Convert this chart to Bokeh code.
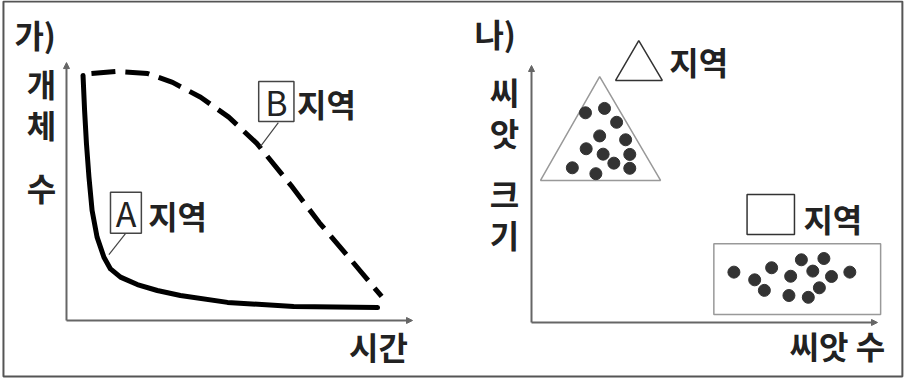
from bokeh.plotting import figure
from bokeh.models import Range1d, Arrow, NormalHead
from bokeh.core.properties import value
from bokeh.embed import file_html
from bokeh.resources import INLINE

# ---------------- data: panel 가) survivorship ----------------
A_TIME = [0.53, 0.58, 0.64, 0.72, 0.82, 0.98, 1.2, 1.41, 1.73, 2.27, 2.91, 3.65, 5.16, 7.28, 9.97]
A_COUNT = [98.8, 84.7, 71.3, 57.8, 44.4, 33.6, 25.5, 20.8, 17.5, 14.5, 12.1, 10.1, 7.3, 5.6, 5.2]
B_TIME = [0.8, 1.6, 2.6, 3.4, 4.3, 5.2, 6.1, 7.2, 8.1, 9.0, 10.1]
B_COUNT = [99.6, 100.4, 99.6, 96, 90, 82, 71.4, 54.4, 39.5, 26.2, 9.7]

# ---------------- data: panel 나) seed count vs seed size ----------------
TRI_SEED_COUNT = [15.6, 21.1, 24.6, 19.7, 27.2, 15.8, 20.7, 28.4, 11.8, 18.6, 23.8, 28.4]
TRI_SEED_SIZE = [81.6, 83.3, 77.9, 72.6, 71.1, 67.6, 65.5, 65.4, 60.2, 57.9, 62.0, 60.0]
SQ_SEED_COUNT = [58.5, 64.5, 67.3, 69.4, 74.9, 74.4, 78.0, 81.3, 80.0, 83.2, 84.5, 86.7, 92.0]
SQ_SEED_SIZE = [19.6, 16.6, 12.5, 21.3, 18.0, 10.5, 24.4, 20.0, 9.8, 13.5, 24.9, 17.9, 19.6]
TRI_REGION_X = [2.6, 19.7, 37.3]
TRI_REGION_Y = [55.3, 95.7, 55.3]
SQ_REGION_X = [52.7, 100.9]
SQ_REGION_Y = [3.1, 30.6]

FONT = value("Noto Sans CJK KR")
TXT = "#222222"
FS = value("32px")

W, H = 905, 378
p = figure(width=W, height=H, output_backend="svg", toolbar_location=None,
           x_range=Range1d(-2.115, 26.89), y_range=Range1d(-23.39, 129.03),
           x_axis_type=None, y_axis_type=None, min_border=0)
p.extra_x_ranges = {"r": Range1d(-153.47, 108.09)}
p.extra_y_ranges = {"r": Range1d(-21.79, 125.29)}
p.outline_line_color = None
p.background_fill_color = "white"
p.border_fill_color = "white"

R = dict(x_range_name="r", y_range_name="r")

# outer frame
p.quad(left=[-2.02], right=[26.79], bottom=[-22.58], top=[128.63],
       fill_color=None, line_color="#555555", line_width=2)

# ---------- panel 가) ----------
p.add_layout(Arrow(x_start=0, y_start=0, x_end=0, y_end=104,
                   line_color="#666666", line_width=2,
                   end=NormalHead(size=6, fill_color="#666666", line_color="#666666")))
p.add_layout(Arrow(x_start=0, y_start=0, x_end=11.09, y_end=0,
                   line_color="#666666", line_width=2,
                   end=NormalHead(size=6, fill_color="#666666", line_color="#666666")))
p.line(A_TIME, A_COUNT, line_color="black", line_width=5, line_join="round", line_cap="round")
p.line(B_TIME, B_COUNT, line_color="black", line_width=5, line_dash="24 10", line_join="round")

# label boxes and leaders
p.quad(left=[6.16, 1.41], right=[7.29, 2.40], bottom=[80.2, 35.2], top=[96.4, 51.7],
       fill_color="white", line_color="#444444", line_width=1.5)
p.segment(x0=[6.79, 1.89], y0=[79.8, 35.0], x1=[6.22, 1.36], y1=[70.2, 26.6],
          line_color="#444444", line_width=1.2)
p.text(x=[6.73, 1.91], y=[88.3, 43.5], text=["B", "A"], text_font=FONT,
       text_font_size=value("34px"), text_align="center", text_baseline="middle", text_color=TXT)
p.text(x=[8.33, 3.56], y=[87.7, 42.7], text=["지역", "지역"], text_font=FONT, text_font_style="bold",
       text_font_size=FS, text_align="center", text_baseline="middle", text_color=TXT)

p.text(x=[-1.67], y=[115.7], text=["가)"], text_font=FONT, text_font_size=FS, text_font_style="bold",
       text_align="left", text_baseline="middle", text_color=TXT)
p.text(x=[-0.80, -0.80, -0.80], y=[95.8, 79.2, 53.8], text=["개", "체", "수"], text_font=FONT,
       text_font_style="bold",
       text_font_size=FS, text_align="center", text_baseline="middle", text_color=TXT)
p.text(x=[10.0], y=[-10.3], text=["시간"], text_font=FONT, text_font_size=FS, text_font_style="bold",
       text_align="center", text_baseline="middle", text_color=TXT)

# ---------- panel 나) ----------
p.add_layout(Arrow(x_start=0, y_start=0, x_end=0, y_end=100,
                   line_color="#666666", line_width=2,
                   end=NormalHead(size=6, fill_color="#666666", line_color="#666666"), **R))
p.add_layout(Arrow(x_start=0, y_start=0, x_end=100, y_end=0,
                   line_color="#666666", line_width=2,
                   end=NormalHead(size=6, fill_color="#666666", line_color="#666666"), **R))

p.patch(TRI_REGION_X, TRI_REGION_Y, fill_color=None, line_color="#999999", line_width=1.5, **R)
p.quad(left=[SQ_REGION_X[0]], right=[SQ_REGION_X[1]], bottom=[SQ_REGION_Y[0]], top=[SQ_REGION_Y[1]],
       fill_color=None, line_color="#999999", line_width=1.5, **R)
p.scatter(TRI_SEED_COUNT, TRI_SEED_SIZE, size=12, fill_color="#333333", line_color="#333333", **R)
p.scatter(SQ_SEED_COUNT, SQ_SEED_SIZE, size=12, fill_color="#333333", line_color="#333333", **R)

# legend-like symbols
p.patch([24.3, 31.0, 37.8], [94.2, 109.7, 94.2], fill_color="white", line_color="#333333",
        line_width=1.5, **R)
p.quad(left=[62.3], right=[76.0], bottom=[34.2], top=[49.8], fill_color="white",
       line_color="#333333", line_width=1.5, **R)
p.text(x=[48.3, 87.1], y=[101.6, 40.5], text=["지역", "지역"], text_font=FONT, text_font_style="bold",
       text_font_size=FS, text_align="center", text_baseline="middle", text_color=TXT, **R)

p.text(x=[-16.5], y=[112.5], text=["나)"], text_font=FONT, text_font_size=FS, text_font_style="bold",
       text_align="left", text_baseline="middle", text_color=TXT, **R)
p.text(x=[-7.8, -7.8, -7.8, -7.8], y=[89.9, 74.3, 50.2, 34.6], text=["씨", "앗", "크", "기"],
       text_font=FONT, text_font_size=FS, text_font_style="bold", text_align="center",
       text_baseline="middle", text_color=TXT, **R)
p.text(x=[88.4], y=[-8.9], text=["씨앗 수"], text_font=FONT, text_font_size=FS, text_font_style="bold",
       text_align="center", text_baseline="middle", text_color=TXT, **R)

open("out.html", "w").write(file_html(p, INLINE))
